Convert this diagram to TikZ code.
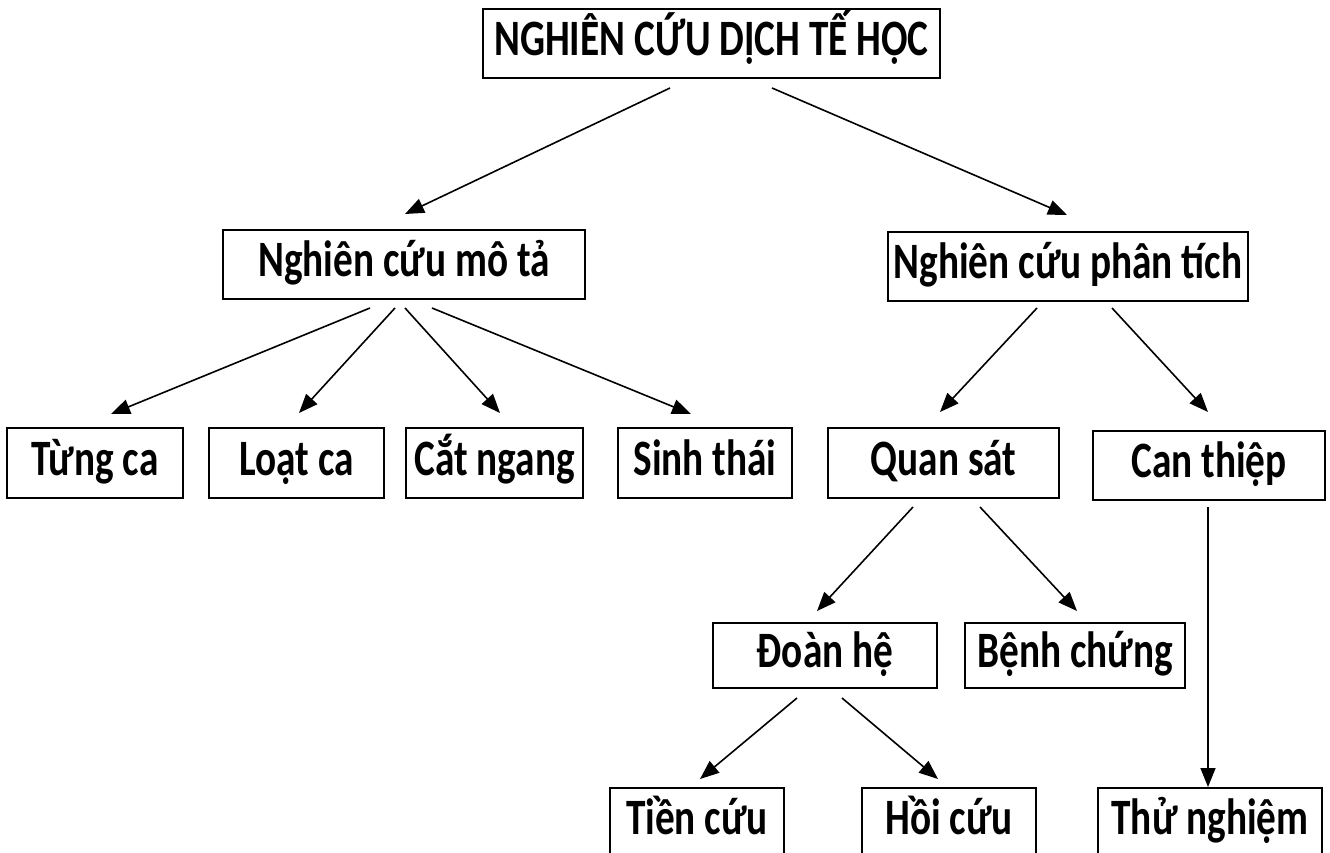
\documentclass[tikz,border=0pt]{standalone}
\usepackage{fontspec}
\setmainfont[FakeStretch=0.77]{Carlito}
\usepackage{tikz}
\usetikzlibrary{arrows.meta}
\tikzstyle{arrow} = [line width=1.6pt,-{Triangle[length=19pt,width=15pt]}]
\tikzstyle{box} = [rectangle, draw, line width=2pt, minimum height=69pt, inner sep=0pt, text height=35pt, text depth=11pt, font=\fontsize{51}{58}\selectfont\bfseries]

\begin{document}
\begin{tikzpicture}[x=1pt,y=-1pt]
\useasboundingbox (0,0) rectangle (1330,852);
% Top level
\node (root) [box, minimum width=457pt] at (711.5,43.5) {NGHIÊN CỨU DỊCH TẾ HỌC};

% Second level
\node (mota) [box, minimum width=362pt] at (404,264.5) {Nghiên cứu mô tả};
\node (phantich) [box, minimum width=360pt] at (1068,266.5) {Nghiên cứu phân tích};

% Descriptive designs
\node (tungca) [box, minimum width=176pt, minimum height=70pt] at (95,463) {Từng ca};
\node (loatca) [box, minimum width=175pt, minimum height=70pt] at (296.5,463) {Loạt ca};
\node (catngang) [box, minimum width=177pt, minimum height=70pt] at (494.5,463) {Cắt ngang};
\node (sinhthai) [box, minimum width=174pt, minimum height=70pt] at (705,463) {Sinh thái};

% Analytic designs
\node (quansat) [box, minimum width=231pt, minimum height=70pt] at (943.5,463) {Quan sát};
\node (canthiep) [box, minimum width=232pt] at (1209,465.5) {Can thiệp};
\node (doanhe) [box, minimum width=224pt, minimum height=65pt] at (825,655.5) {Đoàn hệ};
\node (benhchung) [box, minimum width=220pt, minimum height=65pt] at (1075,655.5) {Bệnh chứng};
\node (tiencuu) [box, minimum width=174pt] at (697,822.5) {Tiền cứu};
\node (hoicuu) [box, minimum width=174pt] at (949,822.5) {Hồi cứu};
\node (thunghiem) [box, minimum width=224pt] at (1210,822.5) {Thử nghiệm};

% Arrows
\draw[arrow] ([shift={(-41.5,9)}]root.south) -- ([shift={(1,-15)}]mota.north);
\draw[arrow] ([shift={(60.5,9)}]root.south) -- ([shift={(-1,-16)}]phantich.north);
\draw[arrow] ([shift={(-34,8)}]mota.south) -- ([shift={(16,-13)}]tungca.north);
\draw[arrow] ([shift={(-9,8)}]mota.south) -- ([shift={(2.5,-14)}]loatca.north);
\draw[arrow] ([shift={(1,8)}]mota.south) -- ([shift={(5.5,-14)}]catngang.north);
\draw[arrow] ([shift={(28,8)}]mota.south) -- ([shift={(-14,-13)}]sinhthai.north);
\draw[arrow] ([shift={(-31,6)}]phantich.south) -- ([shift={(-3.5,-15)}]quansat.north);
\draw[arrow] ([shift={(44,6)}]phantich.south) -- ([shift={(-1,-18)}]canthiep.north);
\draw[arrow] ([shift={(-30.5,8)}]quansat.south) -- ([shift={(-8,-11)}]doanhe.north);
\draw[arrow] ([shift={(36.5,8)}]quansat.south) -- ([shift={(2,-11)}]benhchung.north);
\draw[arrow] ([shift={(-1,6)}]canthiep.south) -- ([shift={(-2,0)}]thunghiem.north);
\draw[arrow] ([shift={(-28,9)}]doanhe.south) -- ([shift={(3,-8)}]tiencuu.north);
\draw[arrow] ([shift={(17,9)}]doanhe.south) -- ([shift={(-11,-8)}]hoicuu.north);
\end{tikzpicture}
\end{document}
